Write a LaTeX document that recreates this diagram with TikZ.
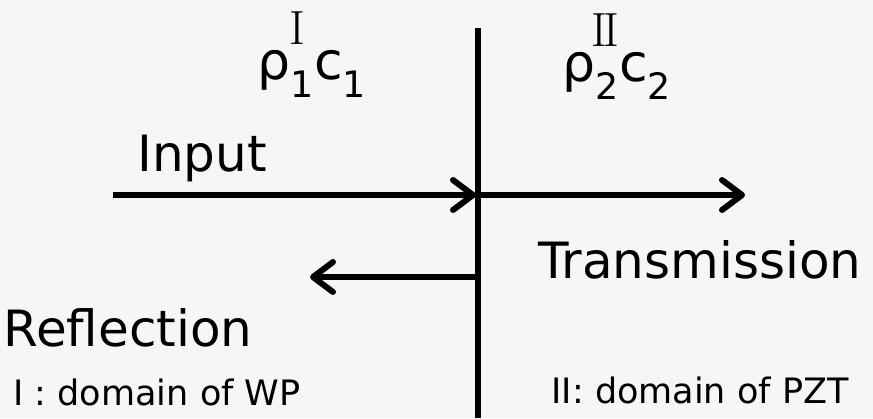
\documentclass[tikz,border=0pt]{standalone}
\usepackage{fontspec}
\setmainfont{DejaVu Sans}
\newfontfamily\romfont{Latin Modern Roman}
\usetikzlibrary{arrows.meta}
\tikzset{
  wave/.style={line width=6pt, -{Straight Barb[length=20pt,width=30pt,line width=6pt,round]}},
  wall/.style={line width=6pt},
  big/.style={font=\fontsize{50}{54}\selectfont, inner sep=0pt},
  sym/.style={font=\fontsize{52}{56}\selectfont, inner sep=0pt},
  med/.style={font=\fontsize{35}{40}\selectfont, inner sep=0pt},
  rom/.style={font=\romfont\fontsize{48}{52}\selectfont, inner sep=0pt}
}
\begin{document}
\begin{tikzpicture}[x=1pt,y=-1pt]
\fill[white!93!gray] (0,0) rectangle (873,418);
\useasboundingbox (0,0) rectangle (873,418);
\coordinate (wt) at (478,28);
\coordinate (wb) at (478,418);
\draw[wall] (wt) -- (wb);
\coordinate (ins) at (113,195);
\coordinate (ine) at (476,195);
\coordinate (trs) at (478,195);
\coordinate (tre) at (745,195);
\coordinate (rfs) at (476,277);
\coordinate (rfe) at (310,277);
\draw[wave] (ins) -- (ine);
\draw[wave, shorten <=2pt] (trs) -- (tre);
\draw[wave] (rfs) -- (rfe);
\node[rom] (r1) at (297,28) {I};
\node[sym] (m1) at (312,74) {ρ\textsubscript{1}c\textsubscript{1}};
\node[rom] (r2) at (605,30) {I\kern-4pt I};
\node[sym] (m2) at (617,76) {ρ\textsubscript{2}c\textsubscript{2}};
\node[big] (inp) at (202,158) {Input};
\node[big] (tra) at (700,260) {Transmission};
\node[big] (ref) at (128,328) {Reflection};
\node[med] (d1) at (157,392) {I : domain of WP};
\node[med] (d2) at (700,390) {II: domain of PZT};
\end{tikzpicture}
\end{document}
